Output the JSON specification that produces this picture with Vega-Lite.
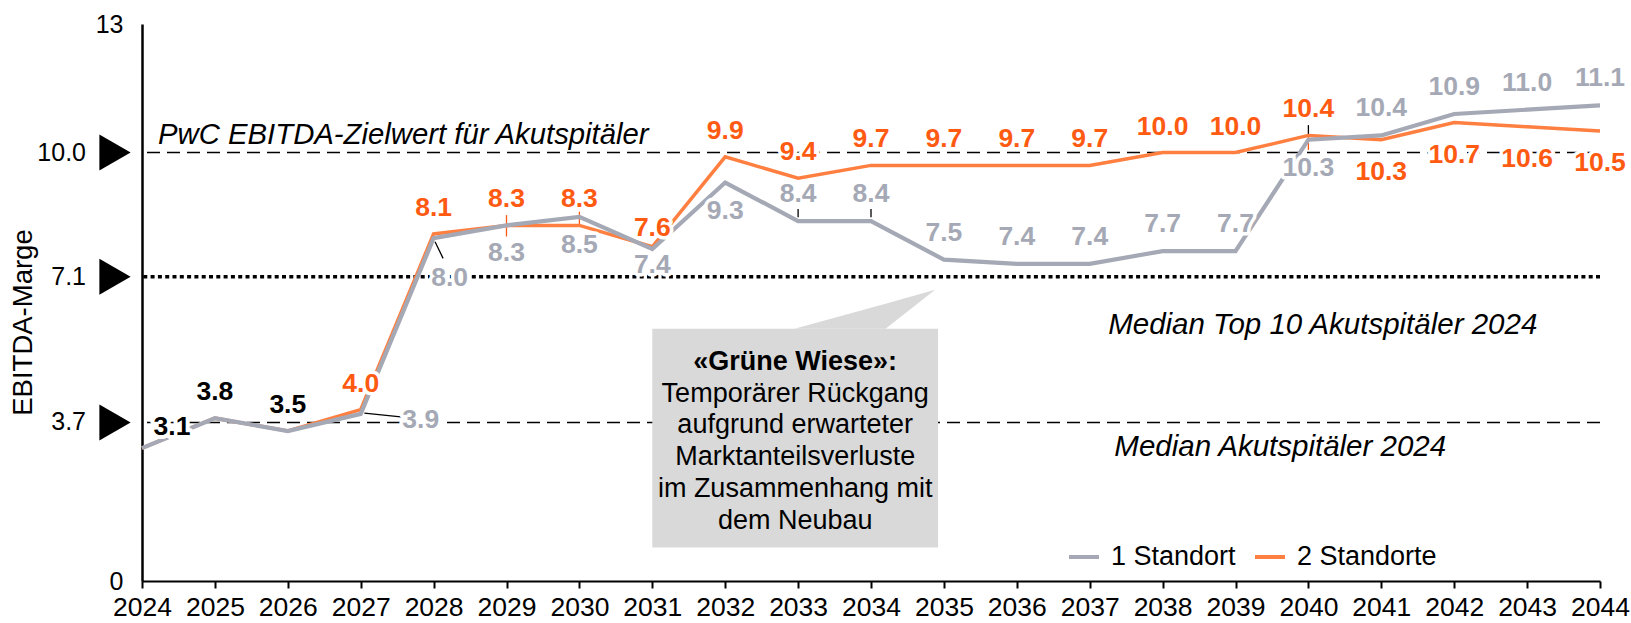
{
  "$schema": "https://vega.github.io/schema/vega-lite/v6.json",
  "width": 1458,
  "height": 557,
  "autosize": "none",
  "padding": {"left": 142, "top": 24, "right": 31, "bottom": 42},
  "config": {"view": {"stroke": null}, "font": "Liberation Sans", "text": {"font": "Liberation Sans"}},
  "datasets": {
    "d": [
      {"year": 2024, "series": "1 Standort", "value": 3.1, "label": "3.1"},
      {"year": 2025, "series": "1 Standort", "value": 3.8, "label": "3.8"},
      {"year": 2026, "series": "1 Standort", "value": 3.5, "label": "3.5"},
      {"year": 2027, "series": "1 Standort", "value": 3.9, "label": "3.9"},
      {"year": 2028, "series": "1 Standort", "value": 8.0, "label": "8.0"},
      {"year": 2029, "series": "1 Standort", "value": 8.3, "label": "8.3"},
      {"year": 2030, "series": "1 Standort", "value": 8.5, "label": "8.5"},
      {"year": 2031, "series": "1 Standort", "value": 7.75, "label": "7.4"},
      {"year": 2032, "series": "1 Standort", "value": 9.3, "label": "9.3"},
      {"year": 2033, "series": "1 Standort", "value": 8.4, "label": "8.4"},
      {"year": 2034, "series": "1 Standort", "value": 8.4, "label": "8.4"},
      {"year": 2035, "series": "1 Standort", "value": 7.5, "label": "7.5"},
      {"year": 2036, "series": "1 Standort", "value": 7.4, "label": "7.4"},
      {"year": 2037, "series": "1 Standort", "value": 7.4, "label": "7.4"},
      {"year": 2038, "series": "1 Standort", "value": 7.7, "label": "7.7"},
      {"year": 2039, "series": "1 Standort", "value": 7.7, "label": "7.7"},
      {"year": 2040, "series": "1 Standort", "value": 10.3, "label": "10.3"},
      {"year": 2041, "series": "1 Standort", "value": 10.4, "label": "10.4"},
      {"year": 2042, "series": "1 Standort", "value": 10.9, "label": "10.9"},
      {"year": 2043, "series": "1 Standort", "value": 11.0, "label": "11.0"},
      {"year": 2044, "series": "1 Standort", "value": 11.1, "label": "11.1"},
      {"year": 2024, "series": "2 Standorte", "value": 3.1, "label": "3.1"},
      {"year": 2025, "series": "2 Standorte", "value": 3.8, "label": "3.8"},
      {"year": 2026, "series": "2 Standorte", "value": 3.5, "label": "3.5"},
      {"year": 2027, "series": "2 Standorte", "value": 4.0, "label": "4.0"},
      {"year": 2028, "series": "2 Standorte", "value": 8.1, "label": "8.1"},
      {"year": 2029, "series": "2 Standorte", "value": 8.3, "label": "8.3"},
      {"year": 2030, "series": "2 Standorte", "value": 8.3, "label": "8.3"},
      {"year": 2031, "series": "2 Standorte", "value": 7.8, "label": "7.6"},
      {"year": 2032, "series": "2 Standorte", "value": 9.9, "label": "9.9"},
      {"year": 2033, "series": "2 Standorte", "value": 9.4, "label": "9.4"},
      {"year": 2034, "series": "2 Standorte", "value": 9.7, "label": "9.7"},
      {"year": 2035, "series": "2 Standorte", "value": 9.7, "label": "9.7"},
      {"year": 2036, "series": "2 Standorte", "value": 9.7, "label": "9.7"},
      {"year": 2037, "series": "2 Standorte", "value": 9.7, "label": "9.7"},
      {"year": 2038, "series": "2 Standorte", "value": 10.0, "label": "10.0"},
      {"year": 2039, "series": "2 Standorte", "value": 10.0, "label": "10.0"},
      {"year": 2040, "series": "2 Standorte", "value": 10.4, "label": "10.4"},
      {"year": 2041, "series": "2 Standorte", "value": 10.3, "label": "10.3"},
      {"year": 2042, "series": "2 Standorte", "value": 10.7, "label": "10.7"},
      {"year": 2043, "series": "2 Standorte", "value": 10.6, "label": "10.6"},
      {"year": 2044, "series": "2 Standorte", "value": 10.5, "label": "10.5"}
    ],
    "refs": [
      {"ref": 3.7, "label": "3.7"},
      {"ref": 7.1, "label": "7.1"},
      {"ref": 10.0, "label": "10.0"}
    ],
    "wedge": [
      {"wx": 2032.95, "wy": 5.885, "wy2": 5.885},
      {"wx": 2034.2, "wy": 5.885, "wy2": 6.47},
      {"wx": 2034.88, "wy": 6.8, "wy2": 6.8}
    ],
    "leaders": [
      {"series": "1 Standort", "lx": 2027.05, "lx2": 2027.55, "ly": 3.92, "ly2": 3.83},
      {"series": "1 Standort", "lx": 2028.02, "lx2": 2028.13, "ly": 7.92, "ly2": 7.53},
      {"series": "1 Standort", "lx": 2033, "lx2": 2033, "ly": 8.49, "ly2": 8.68},
      {"series": "1 Standort", "lx": 2034, "lx2": 2034, "ly": 8.49, "ly2": 8.68},
      {"series": "1 Standort", "lx": 2040, "lx2": 2040, "ly": 10.42, "ly2": 10.64},
      {"series": "2 Standorte", "lx": 2029, "lx2": 2029, "ly": 8.04, "ly2": 8.54},
      {"series": "2 Standorte", "lx": 2030, "lx2": 2030, "ly": 8.27, "ly2": 8.62},
      {"series": "2 Standorte", "lx": 2040, "lx2": 2040, "ly": 10.06, "ly2": 10.42}
    ]
  },
  "layer": [
    {"data": {"values": [{}]}, "mark": {"type": "rule", "color": "black", "strokeWidth": 1.6, "strokeDash": [13, 7]},
      "encoding": {"y": {"datum": 10, "type": "quantitative"}}},
    {"data": {"values": [{}]}, "mark": {"type": "rule", "color": "black", "strokeWidth": 1.6, "strokeDash": [13, 7]},
      "encoding": {"y": {"datum": 3.7, "type": "quantitative"}}},
    {"data": {"values": [{}]}, "mark": {"type": "rule", "color": "black", "strokeWidth": 3.5, "strokeDash": [4, 3.3]},
      "encoding": {"y": {"datum": 7.1, "type": "quantitative"}}},
    {"data": {"name": "leaders"},
      "transform": [{"filter": "datum.series == '1 Standort'"}],
      "mark": {"type": "rule", "color": "black", "strokeWidth": 1.3},
      "encoding": {"x": {"field": "lx", "type": "quantitative"}, "x2": {"field": "lx2"}, "y": {"field": "ly", "type": "quantitative"}, "y2": {"field": "ly2"}}},
    {"data": {"name": "leaders"},
      "transform": [{"filter": "datum.series == '2 Standorte'"}],
      "mark": {"type": "rule", "color": "#FF5A12", "strokeWidth": 1.3},
      "encoding": {"x": {"field": "lx", "type": "quantitative"}, "x2": {"field": "lx2"}, "y": {"field": "ly", "type": "quantitative"}, "y2": {"field": "ly2"}}},
    {"data": {"name": "d"},
      "transform": [{"filter": "datum.series == '2 Standorte'"}],
      "mark": {"type": "line", "strokeWidth": 3.5},
      "encoding": {
        "x": {"field": "year", "type": "quantitative",
          "scale": {"domain": [2024, 2044], "nice": false, "zero": false},
          "axis": {"title": null, "values": [2024,2025,2026,2027,2028,2029,2030,2031,2032,2033,2034,2035,2036,2037,2038,2039,2040,2041,2042,2043,2044],
            "format": "d", "grid": false, "labelFontSize": 26.5, "labelColor": "black", "labelPadding": 6,
            "domainColor": "black", "domainWidth": 2, "tickColor": "black", "tickWidth": 2, "tickSize": 7, "labelFlush": false, "labelOverlap": false}},
        "y": {"field": "value", "type": "quantitative",
          "scale": {"domain": [0, 13], "nice": false, "zero": true},
          "axis": {"title": "EBITDA-Marge", "values": [0, 13], "grid": false, "ticks": false, "labelFontSize": 25, "labelColor": "black",
            "labelPadding": 19, "domainColor": "black", "domainWidth": 2.5, "titleFontSize": 27.5, "titleFontWeight": "normal",
            "titleColor": "black", "titlePadding": 58, "titleY": 298}},
        "color": {"field": "series", "type": "nominal",
          "scale": {"domain": ["1 Standort", "2 Standorte"], "range": ["#A5A9B5", "#FF7F40"]},
          "legend": {"title": null, "orient": "none", "legendX": 925, "legendY": 516, "direction": "horizontal",
            "symbolType": "stroke", "symbolSize": 900, "symbolStrokeWidth": 4, "labelFontSize": 27, "labelColor": "black",
            "labelOffset": 10, "columnPadding": 11}}}},
    {"data": {"name": "d"},
      "transform": [{"filter": "datum.series == '1 Standort'"}],
      "mark": {"type": "line", "strokeWidth": 4.2},
      "encoding": {
        "x": {"field": "year", "type": "quantitative"},
        "y": {"field": "value", "type": "quantitative"},
        "color": {"field": "series", "type": "nominal"}}},
    {"data": {"name": "refs"},
      "mark": {"type": "point", "shape": "triangle-right", "filled": true, "color": "black", "opacity": 1, "size": 1300, "xOffset": -27},
      "encoding": {"x": {"datum": 2024, "type": "quantitative"}, "y": {"field": "ref", "type": "quantitative"}}},
    {"data": {"name": "refs"},
      "mark": {"type": "text", "align": "right", "baseline": "middle", "fontSize": 25, "color": "black", "dx": -56},
      "encoding": {"x": {"datum": 2024, "type": "quantitative"}, "y": {"field": "ref", "type": "quantitative"}, "text": {"field": "label"}}},
    {"data": {"values": [{}]},
      "mark": {"type": "rect", "color": "#D9D9D9"},
      "encoding": {"x": {"datum": 2031.0, "type": "quantitative"}, "x2": {"datum": 2034.92},
        "y": {"datum": 5.885, "type": "quantitative"}, "y2": {"datum": 0.78}}},
    {"data": {"name": "wedge"},
      "mark": {"type": "area", "color": "#D9D9D9", "opacity": 1},
      "encoding": {"x": {"field": "wx", "type": "quantitative"}, "y": {"field": "wy", "type": "quantitative"}, "y2": {"field": "wy2"}}},
    {"data": {"values": [{}]},
      "mark": {"type": "text", "text": "«Grüne Wiese»:", "fontSize": 27, "fontWeight": "bold", "align": "center", "baseline": "middle", "color": "black"},
      "encoding": {"x": {"datum": 2032.96, "type": "quantitative"}, "y": {"datum": 5.12, "type": "quantitative"}}},
    {"data": {"values": [{}]},
      "mark": {"type": "text", "text": ["Temporärer Rückgang", "aufgrund erwarteter", "Marktanteilsverluste", "im Zusammenhang mit", "dem Neubau"],
        "fontSize": 27, "lineHeight": 31.7, "align": "center", "baseline": "middle", "color": "black"},
      "encoding": {"x": {"datum": 2032.96, "type": "quantitative"}, "y": {"datum": 4.37, "type": "quantitative"}}},
    {"data": {"values": [{}]},
      "mark": {"type": "text", "text": "PwC EBITDA-Zielwert für Akutspitäler", "fontSize": 29.3, "fontStyle": "italic", "align": "left", "baseline": "middle", "color": "black"},
      "encoding": {"x": {"datum": 2024.22, "type": "quantitative"}, "y": {"datum": 10.4, "type": "quantitative"}}},
    {"data": {"values": [{}]},
      "mark": {"type": "text", "text": "Median Top 10 Akutspitäler 2024", "fontSize": 29.5, "fontStyle": "italic", "align": "right", "baseline": "middle", "color": "black"},
      "encoding": {"x": {"datum": 2043.14, "type": "quantitative"}, "y": {"datum": 5.97, "type": "quantitative"}}},
    {"data": {"values": [{}]},
      "mark": {"type": "text", "text": "Median Akutspitäler 2024", "fontSize": 29.5, "fontStyle": "italic", "align": "right", "baseline": "middle", "color": "black"},
      "encoding": {"x": {"datum": 2041.89, "type": "quantitative"}, "y": {"datum": 3.13, "type": "quantitative"}}},
    {"data": {"name": "d"},
      "transform": [{"filter": "datum.series == '1 Standort' && datum.year == 2024"}],
      "encoding": {"x": {"field": "year", "type": "quantitative"}, "y": {"field": "value", "type": "quantitative"}, "text": {"field": "label"}},
      "layer": [
        {"mark": {"type": "text", "dx": 30, "dy": -21, "fontSize": 26.5, "fontWeight": "bold", "fill": "white", "stroke": "white", "strokeWidth": 8, "strokeJoin": "round"}},
        {"mark": {"type": "text", "dx": 30, "dy": -21, "fontSize": 26.5, "fontWeight": "bold", "fill": "black"}}
      ]},
    {"data": {"name": "d"},
      "transform": [{"filter": "datum.series == '1 Standort' && (datum.year == 2025 || datum.year == 2026)"}],
      "encoding": {"x": {"field": "year", "type": "quantitative"}, "y": {"field": "value", "type": "quantitative"}, "text": {"field": "label"}},
      "layer": [
        {"mark": {"type": "text", "dy": -26, "fontSize": 26.5, "fontWeight": "bold", "fill": "white", "stroke": "white", "strokeWidth": 7, "strokeJoin": "round"}},
        {"mark": {"type": "text", "dy": -26, "fontSize": 26.5, "fontWeight": "bold", "fill": "black"}}
      ]},
    {"data": {"name": "d"},
      "transform": [{"filter": "datum.series == '1 Standort'"}, {"filter": {"field": "year", "oneOf": [2033, 2034, 2035, 2036, 2037, 2038, 2039, 2041, 2042, 2043, 2044]}}],
      "encoding": {"x": {"field": "year", "type": "quantitative"}, "y": {"field": "value", "type": "quantitative"}, "text": {"field": "label"}},
      "layer": [
        {"mark": {"type": "text", "dy": -27, "fontSize": 26.5, "fontWeight": "bold", "fill": "white", "stroke": "white", "strokeWidth": 7, "strokeJoin": "round"}},
        {"mark": {"type": "text", "dy": -27, "fontSize": 26.5, "fontWeight": "bold", "fill": "#A5A9B5"}}
      ]},
    {"data": {"name": "d"},
      "transform": [{"filter": "datum.series == '1 Standort'"}, {"filter": {"field": "year", "oneOf": [2029, 2030, 2032, 2040]}}],
      "encoding": {"x": {"field": "year", "type": "quantitative"}, "y": {"field": "value", "type": "quantitative"}, "text": {"field": "label"}},
      "layer": [
        {"mark": {"type": "text", "dy": 28, "fontSize": 26.5, "fontWeight": "bold", "fill": "white", "stroke": "white", "strokeWidth": 7, "strokeJoin": "round"}},
        {"mark": {"type": "text", "dy": 28, "fontSize": 26.5, "fontWeight": "bold", "fill": "#A5A9B5"}}
      ]},
    {"data": {"name": "d"},
      "transform": [{"filter": "datum.series == '1 Standort' && datum.year == 2031"}],
      "encoding": {"x": {"field": "year", "type": "quantitative"}, "y": {"field": "value", "type": "quantitative"}, "text": {"field": "label"}},
      "layer": [
        {"mark": {"type": "text", "dy": 16, "fontSize": 26.5, "fontWeight": "bold", "fill": "white", "stroke": "white", "strokeWidth": 7, "strokeJoin": "round"}},
        {"mark": {"type": "text", "dy": 16, "fontSize": 26.5, "fontWeight": "bold", "fill": "#A5A9B5"}}
      ]},
    {"data": {"name": "d"},
      "transform": [{"filter": "datum.series == '1 Standort' && datum.year == 2028"}],
      "encoding": {"x": {"field": "year", "type": "quantitative"}, "y": {"field": "value", "type": "quantitative"}, "text": {"field": "label"}},
      "layer": [
        {"mark": {"type": "text", "dx": 16, "dy": 40, "fontSize": 26.5, "fontWeight": "bold", "fill": "white", "stroke": "white", "strokeWidth": 7, "strokeJoin": "round"}},
        {"mark": {"type": "text", "dx": 16, "dy": 40, "fontSize": 26.5, "fontWeight": "bold", "fill": "#A5A9B5"}}
      ]},
    {"data": {"name": "d"},
      "transform": [{"filter": "datum.series == '1 Standort' && datum.year == 2027"}],
      "encoding": {"x": {"field": "year", "type": "quantitative"}, "y": {"field": "value", "type": "quantitative"}, "text": {"field": "label"}},
      "layer": [
        {"mark": {"type": "text", "dx": 60, "dy": 6, "fontSize": 26.5, "fontWeight": "bold", "fill": "white", "stroke": "white", "strokeWidth": 7, "strokeJoin": "round"}},
        {"mark": {"type": "text", "dx": 60, "dy": 6, "fontSize": 26.5, "fontWeight": "bold", "fill": "#A5A9B5"}}
      ]},
    {"data": {"name": "d"},
      "transform": [{"filter": "datum.series == '2 Standorte'"}, {"filter": {"field": "year", "oneOf": [2027, 2028, 2029, 2030, 2032, 2033, 2034, 2035, 2036, 2037, 2038, 2039, 2040]}}],
      "encoding": {"x": {"field": "year", "type": "quantitative"}, "y": {"field": "value", "type": "quantitative"}, "text": {"field": "label"}},
      "layer": [
        {"mark": {"type": "text", "dy": -26, "fontSize": 26.5, "fontWeight": "bold", "fill": "white", "stroke": "white", "strokeWidth": 7, "strokeJoin": "round"}},
        {"mark": {"type": "text", "dy": -26, "fontSize": 26.5, "fontWeight": "bold", "fill": "#FF5A12"}}
      ]},
    {"data": {"name": "d"},
      "transform": [{"filter": "datum.series == '2 Standorte' && datum.year == 2031"}],
      "encoding": {"x": {"field": "year", "type": "quantitative"}, "y": {"field": "value", "type": "quantitative"}, "text": {"field": "label"}},
      "layer": [
        {"mark": {"type": "text", "dy": -19, "fontSize": 26.5, "fontWeight": "bold", "fill": "white", "stroke": "white", "strokeWidth": 7, "strokeJoin": "round"}},
        {"mark": {"type": "text", "dy": -19, "fontSize": 26.5, "fontWeight": "bold", "fill": "#FF5A12"}}
      ]},
    {"data": {"name": "d"},
      "transform": [{"filter": "datum.series == '2 Standorte'"}, {"filter": {"field": "year", "oneOf": [2041, 2042, 2043, 2044]}}],
      "encoding": {"x": {"field": "year", "type": "quantitative"}, "y": {"field": "value", "type": "quantitative"}, "text": {"field": "label"}},
      "layer": [
        {"mark": {"type": "text", "dy": 32, "fontSize": 26.5, "fontWeight": "bold", "fill": "white", "stroke": "white", "strokeWidth": 7, "strokeJoin": "round"}},
        {"mark": {"type": "text", "dy": 32, "fontSize": 26.5, "fontWeight": "bold", "fill": "#FF5A12"}}
      ]}
  ]
}
